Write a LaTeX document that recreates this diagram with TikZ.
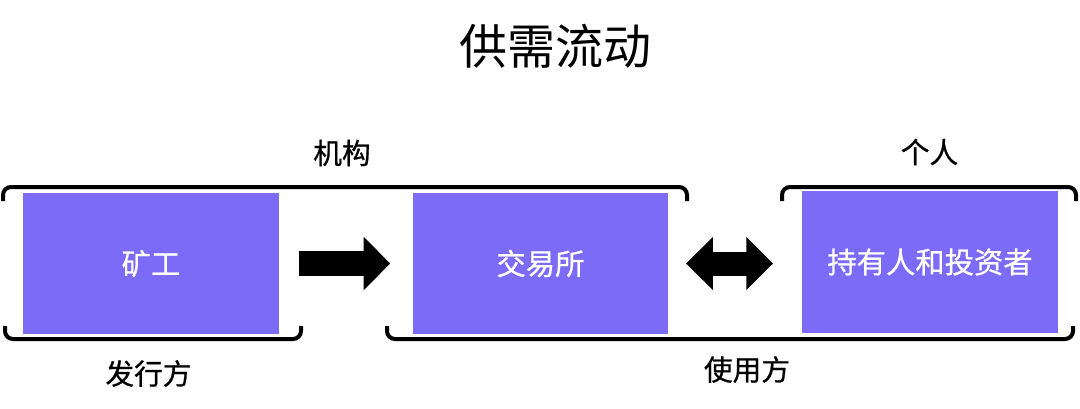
\documentclass[tikz,border=0pt]{standalone}
\usepackage{fontspec}
\setmainfont{Noto Sans CJK SC}
\newfontfamily\medfont[FakeBold=0.7]{Noto Sans CJK SC}
\usetikzlibrary{arrows.meta}
\definecolor{boxblue}{HTML}{7B6BF6}
\tikzset{
  box/.style={fill=boxblue, text=white, font=\medfont\fontsize{22}{26}\selectfont,
    minimum width=192pt, minimum height=106pt, inner sep=0pt},
  label/.style={font=\medfont\fontsize{21.5}{26}\selectfont, inner sep=0pt},
  brace/.style={line width=3pt, rounded corners=6pt},
  fat/.style={line width=18.5pt,
    arrows={-Triangle[length=20pt, width=39pt]}},
  fatboth/.style={line width=18pt,
    arrows={Triangle[length=20pt, width=38.5pt]-Triangle[length=20pt, width=38.5pt]}}
}
\begin{document}
\begin{tikzpicture}[x=0.75pt, y=-0.75pt]
    \useasboundingbox (0,0) rectangle (1080,408);
    \node [font=\fontsize{36}{40}\selectfont, inner sep=0pt] (title) at (555,46.5) {供需流动};
    \node [box] (miner) at (151,263.5) {矿工};
    \node [box, minimum width=191pt] (exchange) at (540.5,263.5) {交易所};
    \node [box, minimum height=106.5pt] (holder) at (930,262) {持有人和投资者};
    % brackets
    \draw [brace] (3,201) -- (3,187) -- (687,187) -- (687,201);
    \draw [brace] (782,201) -- (782,187) -- (1076,187) -- (1076,201);
    \draw [brace] (5,326) -- (5,339) -- (301,339) -- (301,326);
    \draw [brace] (387,326) -- (387,339) -- (1073,339) -- (1073,326);
    \node [label] (org) at (342,153) {机构};
    \node [label] (person) at (929.5,152) {个人};
    \node [label] (issuer) at (148.5,373.5) {发行方};
    \node [label] (user) at (747,369.5) {使用方};
    % arrows
    \draw [fat] ([xshift=15pt]miner.east) -- ([xshift=-17pt]exchange.west);
    \draw [fatboth] ([xshift=13.5pt]exchange.east) -- ([xshift=-21.5pt]holder.west |- exchange.east);
\end{tikzpicture}
\end{document}
